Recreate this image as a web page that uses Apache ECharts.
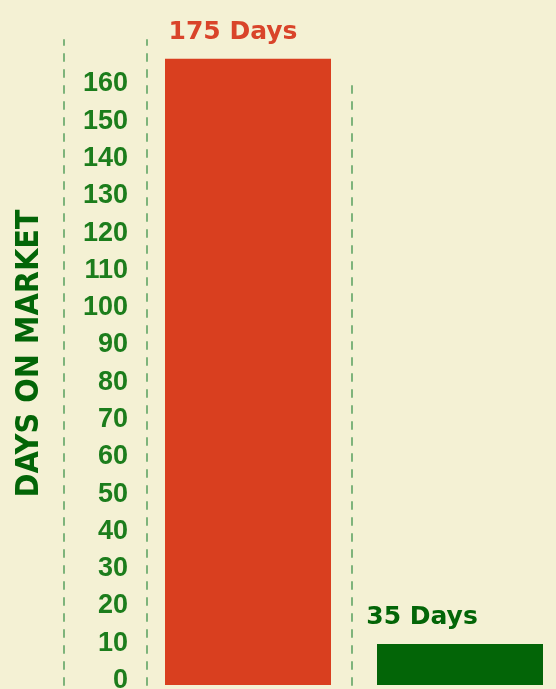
<!DOCTYPE html>
<html>
<head>
<meta charset="utf-8">
<script src="https://cdn.jsdelivr.net/npm/echarts@6/dist/echarts.min.js"></script>
<style>
html,body{margin:0;padding:0;background:#f4f1d4;}
#c{width:556px;height:689px;}
</style>
</head>
<body>
<div id="c"></div>
<script>
// Data
var categories = ['Overpriced listing', 'Well-priced listing'];
var barValues = [168, 11];            // bar heights as drawn against the axis
var barLabels = ['175 Days', '35 Days']; // printed labels
var axisTitle = 'DAYS ON MARKET';
var yMin = 0, yMax = 173, yStep = 10, yLabelMax = 160;

var RED = '#d93f1f', GREEN_BAR = '#036507', GREEN_TXT = '#1c7d1c', DASH = '#72ad72';

var chart = echarts.init(document.getElementById('c'), null, {renderer: 'canvas'});
var dashed = {color: DASH, width: 1.8, type: [7, 9]};

chart.setOption({
  backgroundColor: '#f4f1d4',
  animation: false,
  grid: [
    {left: 142, right: -10, top: 40, bottom: 4, containLabel: false, outerBoundsMode: 'none'},
    {left: 352, width: 10, top: 80, bottom: 4, outerBoundsMode: 'none'}
  ],
  xAxis: [
    {type: 'category', data: categories, gridIndex: 0, show: false},
    {type: 'value', gridIndex: 1, show: false, min: 0, max: 1}
  ],
  yAxis: [
    {
      type: 'value', gridIndex: 0, min: yMin, max: yMax, interval: yStep,
      position: 'left', offset: -5,
      axisLine: {show: true, lineStyle: dashed},
      axisTick: {show: false},
      splitLine: {show: false},
      axisLabel: {
        margin: 19,
        color: GREEN_TXT,
        fontFamily: "'Liberation Sans', Arial, sans-serif",
        fontWeight: 'bold',
        fontSize: 27,
        verticalAlign: 'bottom',
        lineHeight: 9,
        showMaxLabel: false,
        formatter: function (v) { return v <= yLabelMax ? String(v) : ''; }
      }
    },
    {
      type: 'value', gridIndex: 0, min: yMin, max: yMax,
      position: 'left', offset: 78,
      axisLine: {show: true, lineStyle: dashed},
      axisTick: {show: false},
      axisLabel: {show: false},
      splitLine: {show: false},
      name: axisTitle,
      nameLocation: 'middle',
      nameRotate: 90,
      nameGap: 18,
      nameTextStyle: {
        color: GREEN_BAR,
        fontFamily: "'Liberation Sans Narrow', 'DejaVu Sans Condensed', sans-serif",
        fontWeight: 'bold',
        fontSize: 32,
        padding: [0, 0, 0, 18]
      }
    },
    {
      type: 'value', gridIndex: 1, min: 0, max: 1,
      position: 'left',
      axisLine: {show: true, lineStyle: dashed},
      axisTick: {show: false},
      axisLabel: {show: false},
      splitLine: {show: false}
    }
  ],
  series: [{
    type: 'bar',
    xAxisIndex: 0, yAxisIndex: 0,
    barWidth: 166,
    data: barValues.map(function (v, i) {
      return {
        value: v,
        itemStyle: {color: i === 0 ? RED : GREEN_BAR},
        label: {
          show: true,
          position: 'top',
          distance: 14,
          offset: [i === 0 ? -15 : -38, 0],
          formatter: barLabels[i],
          color: i === 0 ? '#d9442a' : GREEN_BAR,
          fontFamily: "'DejaVu Sans', Verdana, sans-serif",
          fontWeight: 'bold',
          fontSize: 25
        }
      };
    })
  }]
});
</script>
</body>
</html>
